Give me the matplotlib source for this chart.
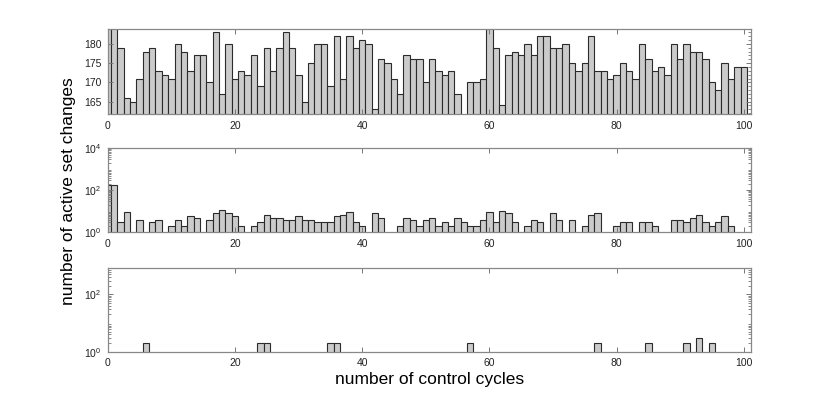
import numpy as np
import matplotlib
matplotlib.use("Agg")
import matplotlib.pyplot as plt
from matplotlib.ticker import MultipleLocator, LogLocator, NullFormatter

plt.rcParams['font.family'] = ['Liberation Sans', 'DejaVu Sans']

cycles = np.arange(0, 101)

# active set changes per cycle (top panel, linear)
top_counts = [200, 200, 179, 166, 165, 171, 178, 179, 173, 172,
              171, 180, 178, 173, 177, 177, 170, 183, 167, 180,
              171, 173, 172, 177, 169, 179, 173, 179, 183, 179,
              172, 165, 175, 180, 180, 169, 182, 171, 182, 179,
              181, 180, 163, 176, 175, 171, 167, 177, 176, 176,
              170, 176, 173, 172, 173, 167, 0, 170, 170, 171,
              200, 179, 164, 177, 178, 177, 180, 177, 182, 182,
              179, 179, 180, 175, 173, 175, 182, 173, 173, 171,
              172, 175, 173, 171, 180, 176, 173, 174, 172, 180,
              176, 180, 178, 178, 176, 170, 168, 175, 171, 174,
              174]

# middle panel (log)
mid_counts = [178, 178, 3, 9, 0, 4, 0, 3, 4, 0,
              2, 4, 2, 6, 5, 0, 4, 8, 11, 8,
              6, 2, 0, 2, 3, 7, 5, 5, 4, 4,
              6, 4, 4, 3, 3, 3, 6, 7, 9, 3,
              2, 0, 8, 5, 0, 0, 2, 5, 4, 2,
              4, 5, 2, 3, 2, 5, 3, 2, 2, 4,
              9, 3, 10, 8, 3, 0, 2, 4, 3, 0,
              8, 4, 0, 4, 0, 2, 7, 8, 0, 0,
              2, 3, 3, 0, 3, 3, 2, 0, 0, 4,
              4, 3, 5, 7, 3, 2, 3, 6, 2, 0,
              0]

# bottom panel (log), only a few non-zero cycles
low_cycles = [6, 24, 25, 35, 36, 57, 77, 85, 91, 93, 95]
low_values = [2, 2, 2, 2, 2, 2, 2, 2, 2, 3, 2]

xticks = [0, 20, 40, 60, 80, 100]

bar_face = '#cbcbcb'
bar_edge = '#2b2b2b'
spine_col = '#888888'

fig = plt.figure(figsize=(8.3, 3.95), dpi=100)
ax1 = fig.add_axes([0.1298, 0.7106, 0.7747, 0.2152])
ax2 = fig.add_axes([0.1298, 0.4119, 0.7747, 0.2127])
ax3 = fig.add_axes([0.1298, 0.1096, 0.7747, 0.2127])


def style(ax):
    for s in ax.spines.values():
        s.set_color(spine_col)
        s.set_linewidth(0.9)
    ax.set_xlim(0, 101.1)
    ax.set_xticks(xticks)
    ax.tick_params(which='both', direction='in', top=True, right=True,
                   color='#777777', labelsize=7.5, labelcolor='#222222', pad=4.5)
    ax.tick_params(which='major', length=3.5, width=0.7)
    ax.tick_params(which='minor', length=2, width=0.6)


c = np.array(cycles)
ax1.bar(c, top_counts, width=1.0, color=bar_face, edgecolor=bar_edge, linewidth=0.8)
ax1.set_ylim(161.7, 183.8)
ax1.set_yticks([165, 170, 175, 180])
ax1.yaxis.set_minor_locator(MultipleLocator(1))
style(ax1)
ax1.tick_params(axis='y', which='minor', left=False)

m = np.array(mid_counts)
nz = m > 0
ax2.set_yscale('log')
ax2.bar(c[nz], m[nz], width=1.0, bottom=0, color=bar_face, edgecolor=bar_edge, linewidth=0.8)
ax2.set_ylim(1, 1e4)
ax2.set_yticks([1, 1e2, 1e4])
ax2.yaxis.set_minor_locator(LogLocator(base=10, subs=np.arange(2, 10), numticks=20))
ax2.yaxis.set_minor_formatter(NullFormatter())
style(ax2)

ax3.set_yscale('log')
ax3.bar(low_cycles, low_values, width=1.0, bottom=0, color=bar_face, edgecolor=bar_edge, linewidth=0.8)
ax3.set_ylim(1, 10 ** 2.93)
ax3.set_yticks([1, 1e2])
ax3.yaxis.set_minor_locator(LogLocator(base=10, subs=np.arange(2, 10), numticks=20))
ax3.yaxis.set_minor_formatter(NullFormatter())
style(ax3)

ax3.set_xlabel('number of control cycles', fontsize=12.5, labelpad=3)
fig.text(0.083, 0.515, 'number of active set changes', rotation=90,
         ha='center', va='center', fontsize=12.5)

fig.savefig('out.png', dpi=100)
